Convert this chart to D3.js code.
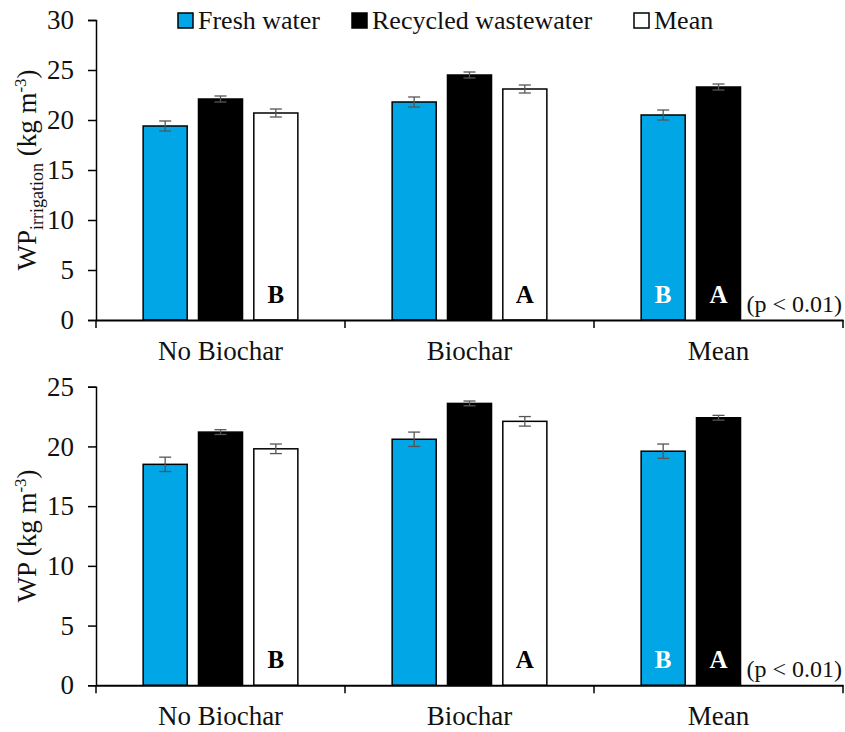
<!DOCTYPE html>
<html>
<head>
<meta charset="utf-8">
<script src="https://cdn.jsdelivr.net/npm/d3@7"></script>
<style>
  body { margin: 0; background: #fff; }
  svg text { font-family: "Liberation Serif", "Times New Roman", serif; }
</style>
</head>
<body>
<svg id="chart" width="845" height="732"></svg>
<script>
const categories = ["No Biochar", "Biochar", "Mean"]
const seriesNames = ["Fresh water", "Recycled wastewater", "Mean"]
const seriesColors = ["#00a6e6", "#000000", "#ffffff"]

// top panel: WP irrigation
const irrFresh = [19.4, 21.8, 20.5]
const irrFreshErr = [0.5, 0.5, 0.5]
const irrRecycled = [22.1, 24.5, 23.3]
const irrRecycledErr = [0.3, 0.3, 0.3]
const irrMean = [20.7, 23.1, null]
const irrMeanErr = [0.4, 0.4, null]

// bottom panel: WP
const wpFresh = [18.5, 20.6, 19.6]
const wpFreshErr = [0.6, 0.6, 0.6]
const wpRecycled = [21.2, 23.6, 22.4]
const wpRecycledErr = [0.2, 0.2, 0.2]
const wpMean = [19.8, 22.1, null]
const wpMeanErr = [0.4, 0.4, null]

const topTicks = [0, 5, 10, 15, 20, 25, 30]
const bottomTicks = [0, 5, 10, 15, 20, 25]

// significance letters: [category, series, letter]
const letters = [
    ["No Biochar", "Mean", "B"],
    ["Biochar", "Mean", "A"],
    ["Mean", "Fresh water", "B"],
    ["Mean", "Recycled wastewater", "A"]
]
const pNote = "(p < 0.01)"

const svg = d3.select("#chart")

const x = d3.scaleBand()
    .domain(categories)
    .range([96, 843])
    .padding(0)

const xInner = d3.scaleBand()
    .domain(seriesNames)
    .range([0, x.bandwidth()])
    .paddingInner(0.204)
    .paddingOuter(0.852)

const color = d3.scaleOrdinal().domain(seriesNames).range(seriesColors)

const buildRows = function (fresh, freshErr, rec, recErr, mean, meanErr) {
    const rows = []
    categories.forEach((cat, i) => {
        const vals = [fresh[i], rec[i], mean[i]]
        const errs = [freshErr[i], recErr[i], meanErr[i]]
        seriesNames.forEach((s, j) => {
            if (vals[j] != null) rows.push({ cat, series: s, value: vals[j], err: errs[j] })
        })
    })
    return rows
}

const drawPanel = function (rows, yMax, ticks, top, bottom, labelFn) {
    const y = d3.scaleLinear().domain([0, yMax]).range([bottom, top])
    const g = svg.append("g")

    // bars
    g.selectAll("rect.bar")
        .data(rows)
        .join("rect")
        .attr("class", "bar")
        .attr("x", d => x(d.cat) + xInner(d.series))
        .attr("y", d => y(d.value))
        .attr("width", xInner.bandwidth())
        .attr("height", d => y(0) - y(d.value))
        .attr("fill", d => color(d.series))
        .attr("stroke", "#000")
        .attr("stroke-width", 1.5)

    // error bars
    const eb = g.selectAll("g.err")
        .data(rows)
        .join("g")
        .attr("class", "err")
        .attr("stroke", "#555")
        .attr("stroke-width", 1.3)
    const cx = d => x(d.cat) + xInner(d.series) + xInner.bandwidth() / 2
    eb.append("line")
        .attr("x1", cx).attr("x2", cx)
        .attr("y1", d => y(d.value + d.err)).attr("y2", d => y(d.value - d.err))
    eb.append("line")
        .attr("x1", d => cx(d) - 6).attr("x2", d => cx(d) + 6)
        .attr("y1", d => y(d.value + d.err)).attr("y2", d => y(d.value + d.err))
    eb.append("line")
        .attr("x1", d => cx(d) - 6).attr("x2", d => cx(d) + 6)
        .attr("y1", d => y(d.value - d.err)).attr("y2", d => y(d.value - d.err))

    // y axis
    const yAxis = g.append("g")
        .attr("transform", "translate(96,0)")
        .call(d3.axisLeft(y).tickValues(ticks).tickSize(8).tickPadding(14))
    yAxis.select(".domain").attr("stroke-width", 1.5)
    yAxis.selectAll(".tick line").attr("stroke-width", 1.5)
    yAxis.selectAll("text").attr("font-size", 27).attr("fill", "#111")

    // x axis
    const xAxis = g.append("g")
        .attr("transform", `translate(0,${bottom})`)
        .call(d3.axisBottom(x).tickSize(0).tickPadding(21).tickSizeOuter(0))
    xAxis.select(".domain").attr("stroke-width", 2)
    xAxis.selectAll("text").attr("font-size", 27).attr("fill", "#111")
    xAxis.selectAll("line.sep")
        .data(categories)
        .join("line")
        .attr("class", "sep")
        .attr("x1", d => x(d) + x.bandwidth()).attr("x2", d => x(d) + x.bandwidth())
        .attr("y1", 0).attr("y2", 8)
        .attr("stroke", "#000").attr("stroke-width", 1.5)
    xAxis.append("line")
        .attr("x1", x.range()[0]).attr("x2", x.range()[0])
        .attr("y1", 0).attr("y2", 8)
        .attr("stroke", "#000").attr("stroke-width", 1.5)

    // letters
    g.selectAll("text.letter")
        .data(letters)
        .join("text")
        .attr("class", "letter")
        .attr("x", d => x(d[0]) + xInner(d[1]) + xInner.bandwidth() / 2)
        .attr("y", bottom - 17)
        .attr("text-anchor", "middle")
        .attr("font-size", 25)
        .attr("font-weight", "bold")
        .attr("fill", d => d[1] === "Mean" ? "#000" : "#fff")
        .text(d => d[2])

    g.append("text")
        .attr("x", 842)
        .attr("y", bottom - 8)
        .attr("text-anchor", "end")
        .attr("font-size", 24)
        .attr("fill", "#111")
        .text(pNote)

    // y label
    const lab = g.append("text")
        .attr("transform", `translate(36,${(top + bottom) / 2}) rotate(-90)`)
        .attr("text-anchor", "middle")
        .attr("font-size", 27)
        .attr("fill", "#111")
    labelFn(lab)
}

drawPanel(buildRows(irrFresh, irrFreshErr, irrRecycled, irrRecycledErr, irrMean, irrMeanErr),
    30, topTicks, 20, 320, lab => {
        lab.append("tspan").text("WP")
        lab.append("tspan").attr("font-size", 18).attr("dy", 7).text("irrigation")
        lab.append("tspan").attr("dy", -7).text(" (kg m")
        lab.append("tspan").attr("font-size", 17).attr("dy", -10).text("-3")
        lab.append("tspan").attr("dy", 10).text(")")
    })

drawPanel(buildRows(wpFresh, wpFreshErr, wpRecycled, wpRecycledErr, wpMean, wpMeanErr),
    25, bottomTicks, 386.7, 685.3, lab => {
        lab.append("tspan").text("WP (kg m")
        lab.append("tspan").attr("font-size", 17).attr("dy", -10).text("-3")
        lab.append("tspan").attr("dy", 10).text(")")
    })

// legend
const legendX = [178, 352, 634]
const legend = svg.append("g")
    .selectAll("g")
    .data(seriesNames)
    .join("g")
    .attr("transform", (d, i) => `translate(${legendX[i]},13)`)
legend.append("rect")
    .attr("width", 15).attr("height", 15)
    .attr("fill", d => color(d))
    .attr("stroke", "#000").attr("stroke-width", 1.5)
legend.append("text")
    .attr("x", 20).attr("y", 16)
    .attr("font-size", 26)
    .attr("fill", "#111")
    .text(d => d)
</script>
</body>
</html>
